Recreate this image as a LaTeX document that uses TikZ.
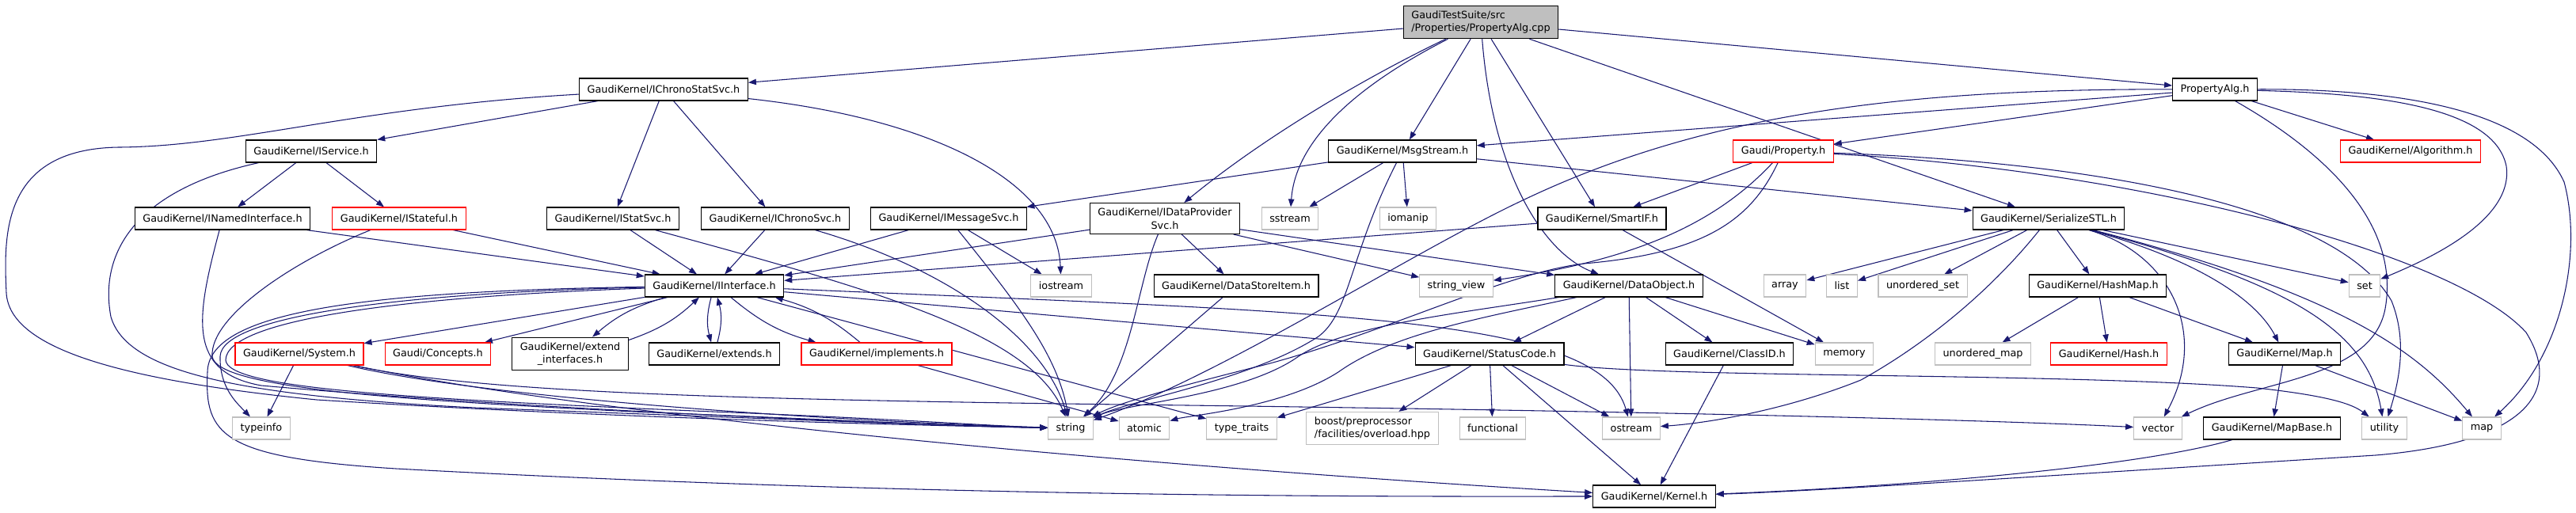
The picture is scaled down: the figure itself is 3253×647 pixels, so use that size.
\documentclass[tikz,border=0pt]{standalone}
\usepackage{fontspec}
\setmainfont{DejaVu Sans}
\usetikzlibrary{arrows.meta}
\pgfdeclarelayer{background}
\pgfsetlayers{background,main}
\definecolor{edgeblue}{HTML}{191970}
\definecolor{stdgray}{HTML}{BFBFBF}
\definecolor{rootgray}{HTML}{BFBFBF}
\definecolor{truncred}{HTML}{FF0000}
\tikzset{
  hbox/.style={rectangle, fill=white, inner xsep=7.5pt, inner ysep=4.6pt, minimum height=21pt,
    font=\fontsize{9.6pt}{12.5pt}\selectfont},
  hfile/.style={hbox, draw=black, line width=0.9pt},
  hred/.style={hbox, draw=truncred, line width=0.8pt},
  hstd/.style={hbox, draw=stdgray, line width=0.8pt},
  hroot/.style={hbox, draw=black, fill=rootgray, line width=0.9pt},
  dep/.style={draw=edgeblue, line width=0.8pt, -{Triangle[length=7.5pt,width=5.5pt]}}
}
\begin{document}
\begin{tikzpicture}[x=0.75pt, y=-0.75pt]
 \useasboundingbox (0,0) rectangle (3253,647);
 \node[hroot, align=left] (cpp) at (1870,28) {GaudiTestSuite/src\\/Properties/PropertyAlg.cpp};
 \node[hfile] (chronostat) at (838,113) {GaudiKernel/IChronoStatSvc.h};
 \node[hfile] (propalgh) at (2797,113) {PropertyAlg.h};
 \node[hfile] (service) at (393,191) {GaudiKernel/IService.h};
 \node[hfile] (msgstream) at (1771,191) {GaudiKernel/MsgStream.h};
 \node[hred] (property) at (2252,191) {Gaudi/Property.h};
 \node[hred] (algorithm) at (3044,191) {GaudiKernel/Algorithm.h};
 \node[hfile] (named) at (281,276) {GaudiKernel/INamedInterface.h};
 \node[hred] (stateful) at (504,276) {GaudiKernel/IStateful.h};
 \node[hfile] (statsvc) at (774,276) {GaudiKernel/IStatSvc.h};
 \node[hfile] (chronosvc) at (979,276) {GaudiKernel/IChronoSvc.h};
 \node[hfile] (msgsvc) at (1198,276) {GaudiKernel/IMessageSvc.h};
 \node[hfile, align=center] (dataprov) at (1471,276) {GaudiKernel/IDataProvider\\Svc.h};
 \node[hstd] (sstream) at (1629,276) {sstream};
 \node[hstd] (iomanip) at (1778,276) {iomanip};
 \node[hfile] (smartif) at (2023,276) {GaudiKernel/SmartIF.h};
 \node[hfile] (serialize) at (2587,276) {GaudiKernel/SerializeSTL.h};
 \node[hfile] (iface) at (902,361) {GaudiKernel/IInterface.h};
 \node[hstd] (iostream) at (1340,361) {iostream};
 \node[hfile] (storeitem) at (1561,361) {GaudiKernel/DataStoreItem.h};
 \node[hstd] (strview) at (1839,361) {string\_view};
 \node[hfile] (dataobj) at (2057,361) {GaudiKernel/DataObject.h};
 \node[hstd] (array) at (2254,361) {array};
 \node[hstd] (list) at (2326,361) {list};
 \node[hstd] (uset) at (2428,361) {unordered\_set};
 \node[hfile] (hashmap) at (2649,361) {GaudiKernel/HashMap.h};
 \node[hstd] (nset) at (2986,361) {set};
 \node[hred] (systemh) at (378,447) {GaudiKernel/System.h};
 \node[hred] (concepts) at (553,447) {Gaudi/Concepts.h};
 \node[hfile, align=center] (extendif) at (720,447) {GaudiKernel/extend\\\_interfaces.h};
 \node[hfile] (extends) at (902,447) {GaudiKernel/extends.h};
 \node[hred] (implements) at (1107,447) {GaudiKernel/implements.h};
 \node[hfile] (statuscode) at (1881,447) {GaudiKernel/StatusCode.h};
 \node[hfile] (classid) at (2184,447) {GaudiKernel/ClassID.h};
 \node[hstd] (memory) at (2329,447) {memory};
 \node[hstd] (umap) at (2504,447) {unordered\_map};
 \node[hred] (hash) at (2663,447) {GaudiKernel/Hash.h};
 \node[hfile] (maph) at (2885,447) {GaudiKernel/Map.h};
 \node[hstd] (typeinfo) at (330,541) {typeinfo};
 \node[hstd] (nstring) at (1352,541) {string};
 \node[hstd] (atomic) at (1445,541) {atomic};
 \node[hstd] (typetraits) at (1568,541) {type\_traits};
 \node[hstd, align=left] (boost) at (1733,541) {boost/preprocessor\\/facilities/overload.hpp};
 \node[hstd] (functional) at (1885,541) {functional};
 \node[hstd] (ostream) at (2060,541) {ostream};
 \node[hstd] (vector) at (2725,541) {vector};
 \node[hfile] (mapbase) at (2869,541) {GaudiKernel/MapBase.h};
 \node[hstd] (utility) at (3011,541) {utility};
 \node[hstd] (nmap) at (3134,541) {map};
 \node[hfile] (kernel) at (2089,627) {GaudiKernel/Kernel.h};

 \begin{pgfonlayer}{background}
 \draw[dep] (cpp) -- (chronostat);
 \draw[dep] (cpp) .. controls (1730,95) and (1600,170) .. (dataprov);
 \draw[dep] (cpp) .. controls (1690,120) and (1635,190) .. (sstream);
 \draw[dep] (cpp) -- (msgstream);
 \draw[dep] (cpp) .. controls (1885,220) and (1950,320) .. (dataobj);
 \draw[dep] (cpp) -- (smartif);
 \draw[dep] (cpp) -- (serialize);
 \draw[dep] (cpp) -- (propalgh);

 \draw[dep] (chronostat) -- (service);
 \draw[dep] (chronostat) -- (statsvc);
 \draw[dep] (chronostat) -- (chronosvc);
 \draw[dep] (chronostat) .. controls (1180,150) and (1335,230) .. (iostream);
 \draw[dep] (chronostat) .. controls (450,135) and (300,185) .. (150,186) .. controls (0,188) and (5,300) .. (8,370) .. controls (12,440) and (150,480) .. (400,505) .. controls (800,530) and (1200,538) .. (nstring);

 \draw[dep] (service) -- (named);
 \draw[dep] (service) -- (stateful);
 \draw[dep] (service) .. controls (170,240) and (125,320) .. (140,400) .. controls (160,470) and (300,500) .. (600,515) .. controls (1000,530) and (1200,538) .. (nstring);

 \draw[dep] (named) -- (iface);
 \draw[dep] (named) .. controls (248,400) and (235,470) .. (330,487) .. controls (700,520) and (1200,538) .. (nstring);

 \draw[dep] (stateful) -- (iface);
 \draw[dep] (stateful) .. controls (370,330) and (265,400) .. (268,450) .. controls (272,490) and (500,505) .. (800,520) .. controls (1100,532) and (1200,538) .. (nstring);

 \draw[dep] (statsvc) -- (iface);
 \draw[dep] (statsvc) .. controls (1100,365) and (1300,420) .. (nstring);
 \draw[dep] (chronosvc) -- (iface);
 \draw[dep] (chronosvc) .. controls (1200,340) and (1320,430) .. (nstring);

 \draw[dep] (msgsvc) -- (iface);
 \draw[dep] (msgsvc) .. controls (1290,390) and (1335,450) .. (nstring);
 \draw[dep] (msgsvc) -- (iostream);

 \draw[dep] (dataprov) -- (iface);
 \draw[dep] (dataprov) .. controls (1435,360) and (1430,470) .. (nstring);
 \draw[dep] (dataprov) -- (storeitem);
 \draw[dep] (dataprov) -- (strview);
 \draw[dep] (dataprov) -- (dataobj);

 \draw[dep] (msgstream) -- (msgsvc);
 \draw[dep] (msgstream) -- (sstream);
 \draw[dep] (msgstream) -- (iomanip);
 \draw[dep] (msgstream) .. controls (1705,320) and (1705,395) .. (1665,425) .. controls (1580,480) and (1430,505) .. (nstring);
 \draw[dep] (msgstream) -- (serialize);

 \draw[dep] (propalgh) -- (msgstream);
 \draw[dep] (propalgh) -- (property);
 \draw[dep] (propalgh) .. controls (2400,112) and (2150,145) .. (1925,252) .. controls (1780,320) and (1550,470) .. (nstring);
 \draw[dep] (propalgh) -- (algorithm);
 \draw[dep] (propalgh) .. controls (2950,200) and (3030,290) .. (3012,390) .. controls (2995,480) and (2850,480) .. (vector);
 \draw[dep] (propalgh) .. controls (3000,118) and (3150,135) .. (3165,210) .. controls (3175,280) and (3060,330) .. (nset);
 \draw[dep] (propalgh) .. controls (3050,112) and (3200,145) .. (3238,230) .. controls (3262,320) and (3235,450) .. (nmap);

 \draw[dep] (property) -- (smartif);
 \draw[dep] (property) .. controls (2160,290) and (2050,330) .. (strview);
 \draw[dep] (property) .. controls (2210,280) and (2150,320) .. (2000,333) .. controls (1900,345) and (1750,420) .. (1600,460) .. controls (1480,490) and (1410,510) .. (nstring);
 \draw[dep] (property) .. controls (2650,205) and (2950,260) .. (3020,380) .. controls (3040,430) and (3030,480) .. (utility);
 \draw[dep] (property) .. controls (2700,215) and (3100,320) .. (3190,420) .. controls (3240,500) and (3180,560) .. (3000,575) .. controls (2600,600) and (2300,620) .. (kernel);

 \draw[dep] (serialize) -- (array);
 \draw[dep] (serialize) -- (list);
 \draw[dep] (serialize) -- (uset);
 \draw[dep] (serialize) .. controls (2520,360) and (2440,430) .. (2350,480) .. controls (2250,520) and (2150,535) .. (ostream);
 \draw[dep] (serialize) -- (hashmap);
 \draw[dep] (serialize) .. controls (2740,320) and (2790,420) .. (vector);
 \draw[dep] (serialize) .. controls (2780,330) and (2850,380) .. (maph);
 \draw[dep] (serialize) .. controls (2900,360) and (2990,420) .. (utility);
 \draw[dep] (serialize) .. controls (2950,370) and (3050,440) .. (nmap);
 \draw[dep] (serialize) -- (nset);

 \draw[dep] (hashmap) -- (umap);
 \draw[dep] (hashmap) -- (hash);
 \draw[dep] (hashmap) -- (maph);
 \draw[dep] (maph) -- (mapbase);
 \draw[dep] (maph) -- (nmap);
 \draw[dep] (mapbase) .. controls (2700,590) and (2400,615) .. (kernel);

 \draw[dep] (smartif) -- (iface);
 \draw[dep] (smartif) -- (memory);

 \draw[dep] (iface) -- (systemh);
 \draw[dep] (iface) -- (concepts);
 \draw[dep] (iface) to[bend right=12] (extendif);
 \draw[dep] (extendif) to[bend right=12] (iface);
 \draw[dep] (iface) to[bend right=15] (extends);
 \draw[dep] (extends) to[bend right=15] (iface);
 \draw[dep] (iface) to[bend right=12] (implements);
 \draw[dep] (implements) to[bend right=12] (iface);
 \draw[dep] (iface) .. controls (500,370) and (280,400) .. (278,450) .. controls (277,490) and (300,510) .. (typeinfo);
 \draw[dep] (iface) .. controls (500,375) and (285,405) .. (285,455) .. controls (288,490) and (500,503) .. (900,520) .. controls (1150,530) and (1250,538) .. (nstring);
 \draw[dep] (iface) .. controls (450,368) and (263,395) .. (262,470) .. controls (258,550) and (280,578) .. (500,592) .. controls (1200,630) and (1800,627) .. (kernel);
 \draw[dep] (iface) -- (statuscode);
 \draw[dep] (iface) .. controls (1700,395) and (2020,400) .. (ostream);
 \draw[dep] (iface) -- (typetraits);

 \draw[dep] (systemh) -- (typeinfo);
 \draw[dep] (systemh) .. controls (600,500) and (1000,530) .. (nstring);
 \draw[dep] (systemh) .. controls (600,495) and (900,505) .. (1500,512) .. controls (2100,520) and (2500,530) .. (vector);
 \draw[dep] (systemh) .. controls (700,515) and (1300,580) .. (kernel);

 \draw[dep] (implements) -- (atomic);
 \draw[dep] (storeitem) -- (nstring);

 \draw[dep] (dataobj) -- (statuscode);
 \draw[dep] (dataobj) -- (ostream);
 \draw[dep] (dataobj) -- (classid);
 \draw[dep] (dataobj) -- (memory);
 \draw[dep] (dataobj) .. controls (1850,395) and (1700,410) .. (1640,450) .. controls (1570,500) and (1420,510) .. (nstring);
 \draw[dep] (dataobj) .. controls (1880,400) and (1760,420) .. (1690,470) .. controls (1620,515) and (1500,525) .. (atomic);

 \draw[dep] (statuscode) -- (typetraits);
 \draw[dep] (statuscode) -- (boost);
 \draw[dep] (statuscode) -- (functional);
 \draw[dep] (statuscode) -- (ostream);
 \draw[dep] (statuscode) -- (kernel);
 \draw[dep] (statuscode) .. controls (2100,478) and (2600,470) .. (2850,490) .. controls (2940,500) and (2970,510) .. (utility);
 \draw[dep] (classid) -- (kernel);
 \end{pgfonlayer}
\end{tikzpicture}
\end{document}
